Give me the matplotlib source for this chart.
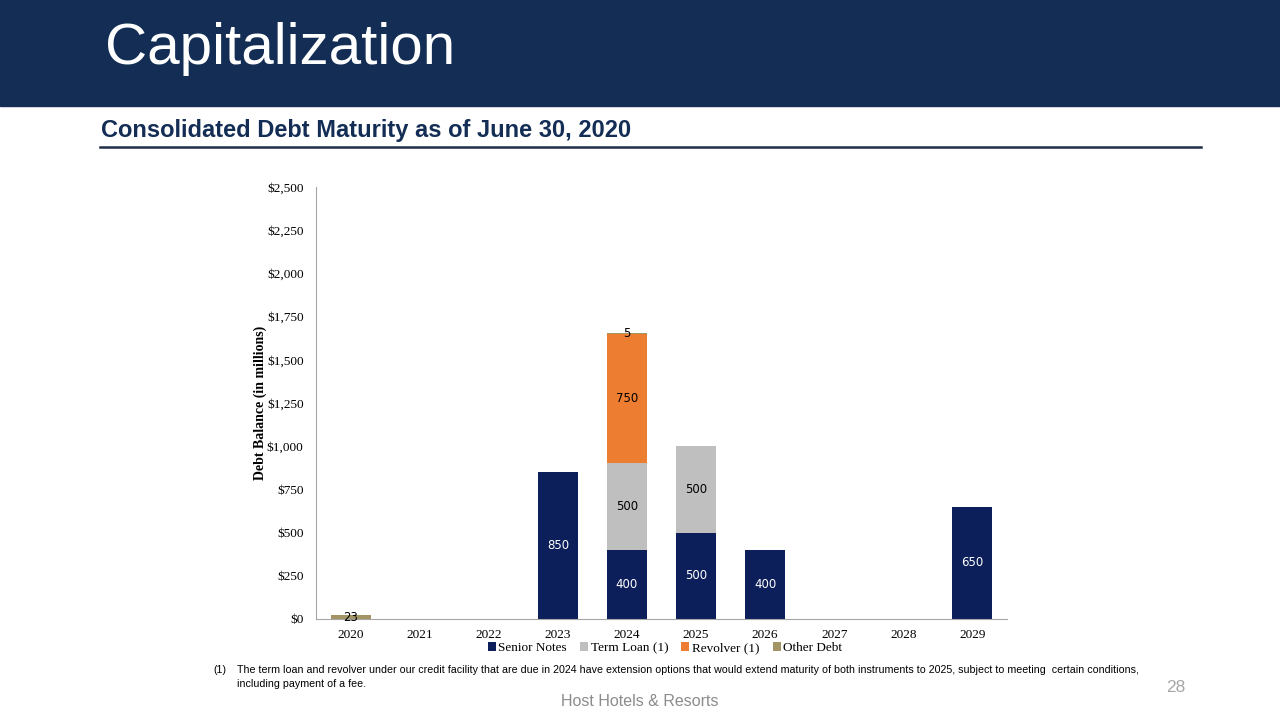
import matplotlib.pyplot as plt
import numpy as np

# Debt maturity data ($ millions)
years = ['2020', '2021', '2022', '2023', '2024', '2025', '2026', '2027', '2028', '2029']
senior_notes = [0, 0, 0, 850, 400, 500, 400, 0, 0, 650]
term_loan = [0, 0, 0, 0, 500, 500, 0, 0, 0, 0]
revolver = [0, 0, 0, 0, 750, 0, 0, 0, 0, 0]
other_debt = [23, 0, 0, 0, 5, 0, 0, 0, 0, 0]
y_ticks = [0, 250, 500, 750, 1000, 1250, 1500, 1750, 2000, 2250, 2500]

NAVY = '#0c1f5a'
GREY = '#bfbfbf'
ORANGE = '#ed7d31'
TAN = '#a39563'
HEADER = '#132d55'

fig = plt.figure(figsize=(12.8, 7.2), dpi=100)

# header band and titles
fig.patches.append(plt.Rectangle((0, 1 - 106 / 720), 1, 106 / 720, transform=fig.transFigure,
                                 color=HEADER, zorder=0))
fig.text(105 / 1280, 1 - 49 / 720, 'Capitalization', color='white', fontsize=42,
         family='Liberation Sans', va='center', ha='left')
fig.text(101 / 1280, 1 - 130 / 720, 'Consolidated Debt Maturity as of June 30, 2020',
         color=HEADER, fontsize=17, fontweight='bold', family='Liberation Sans',
         va='center', ha='left')
fig.add_artist(plt.Line2D([100 / 1280, 1201 / 1280], [1 - 147 / 720] * 2,
                          transform=fig.transFigure, color='#1f2f45', lw=1.8))

ax = fig.add_axes([316 / 1280, 1 - 619 / 720, 691 / 1280, 432 / 720])
x = np.arange(len(years))
w = 0.58

sn = np.array(senior_notes)
tl = np.array(term_loan)
rv = np.array(revolver)
od = np.array(other_debt)

b1 = ax.bar(x, sn, w, color=NAVY, label='Senior Notes')
b2 = ax.bar(x, tl, w, bottom=sn, color=GREY, label='Term Loan (1)')
b3 = ax.bar(x, rv, w, bottom=sn + tl, color=ORANGE, label='Revolver (1)')
b4 = ax.bar(x, od, w, bottom=sn + tl + rv, color=TAN, label='Other Debt')

def label_segments(vals, bottoms, color):
    for i, v in enumerate(vals):
        if v > 0:
            ax.text(x[i], bottoms[i] + v / 2, str(v), ha='center', va='center',
                    color=color, fontsize=8.5, family='DejaVu Sans')

label_segments(sn, np.zeros(len(x)), 'white')
label_segments(tl, sn, 'black')
label_segments(rv, sn + tl, 'black')
# other debt labels sit just at the segment
for i, v in enumerate(od):
    if v > 0:
        base = sn[i] + tl[i] + rv[i]
        ax.text(x[i], base + v / 2 - (5 if base == 0 else 0), str(v), ha='center',
                va='center', color='black', fontsize=8.5, family='DejaVu Sans')

ax.set_xlim(-0.5, len(years) - 0.5)
ax.set_ylim(0, 2500)
ax.set_yticks(y_ticks)
ax.set_yticklabels(['${:,}'.format(t) for t in y_ticks])
ax.set_xticks(x)
ax.set_xticklabels(years)
for lbl in ax.get_xticklabels() + ax.get_yticklabels():
    lbl.set_family('Liberation Serif')
    lbl.set_fontsize(9.5)
ax.tick_params(axis='y', length=0, pad=9)
ax.tick_params(axis='x', length=0, pad=7)
ax.spines['top'].set_visible(False)
ax.spines['right'].set_visible(False)
ax.spines['left'].set_color('#a6a6a6')
ax.spines['bottom'].set_color('#a6a6a6')
ax.set_ylabel('Debt Balance (in millions)', family='Liberation Serif', fontsize=10,
              fontweight='bold', labelpad=0)

fig.legend(handles=[b1, b2, b3, b4], loc='center', bbox_to_anchor=(665 / 1280, 1 - 648 / 720),
           ncol=4, frameon=False, handlelength=0.6, handleheight=0.6, handletextpad=0.2,
           columnspacing=1.0, borderpad=0.1, prop={'family': 'Liberation Serif', 'size': 9.5})

# footnote and footer
fig.text(213 / 1280, 1 - 670 / 720, '(1)', fontsize=7.7, family='Liberation Sans', va='center')
fig.text(237 / 1280, 1 - 670 / 720,
         'The term loan and revolver under our credit facility that are due in 2024 have extension '
         'options that would extend maturity of both instruments to 2025, subject to meeting  '
         'certain conditions,', fontsize=7.7, family='Liberation Sans', va='center')
fig.text(237 / 1280, 1 - 684 / 720, 'including payment of a fee.', fontsize=7.7,
         family='Liberation Sans', va='center')
fig.text(1176 / 1280, 1 - 688 / 720, '28', fontsize=12.5, color='#a6a6a6',
         family='Liberation Sans', va='center', ha='center')
fig.text(640 / 1280, 1 - 701 / 720, 'Host Hotels & Resorts', fontsize=11.5, color='#8c8c8c',
         family='Liberation Sans', va='center', ha='center')

fig.savefig('out.png', dpi=100)
